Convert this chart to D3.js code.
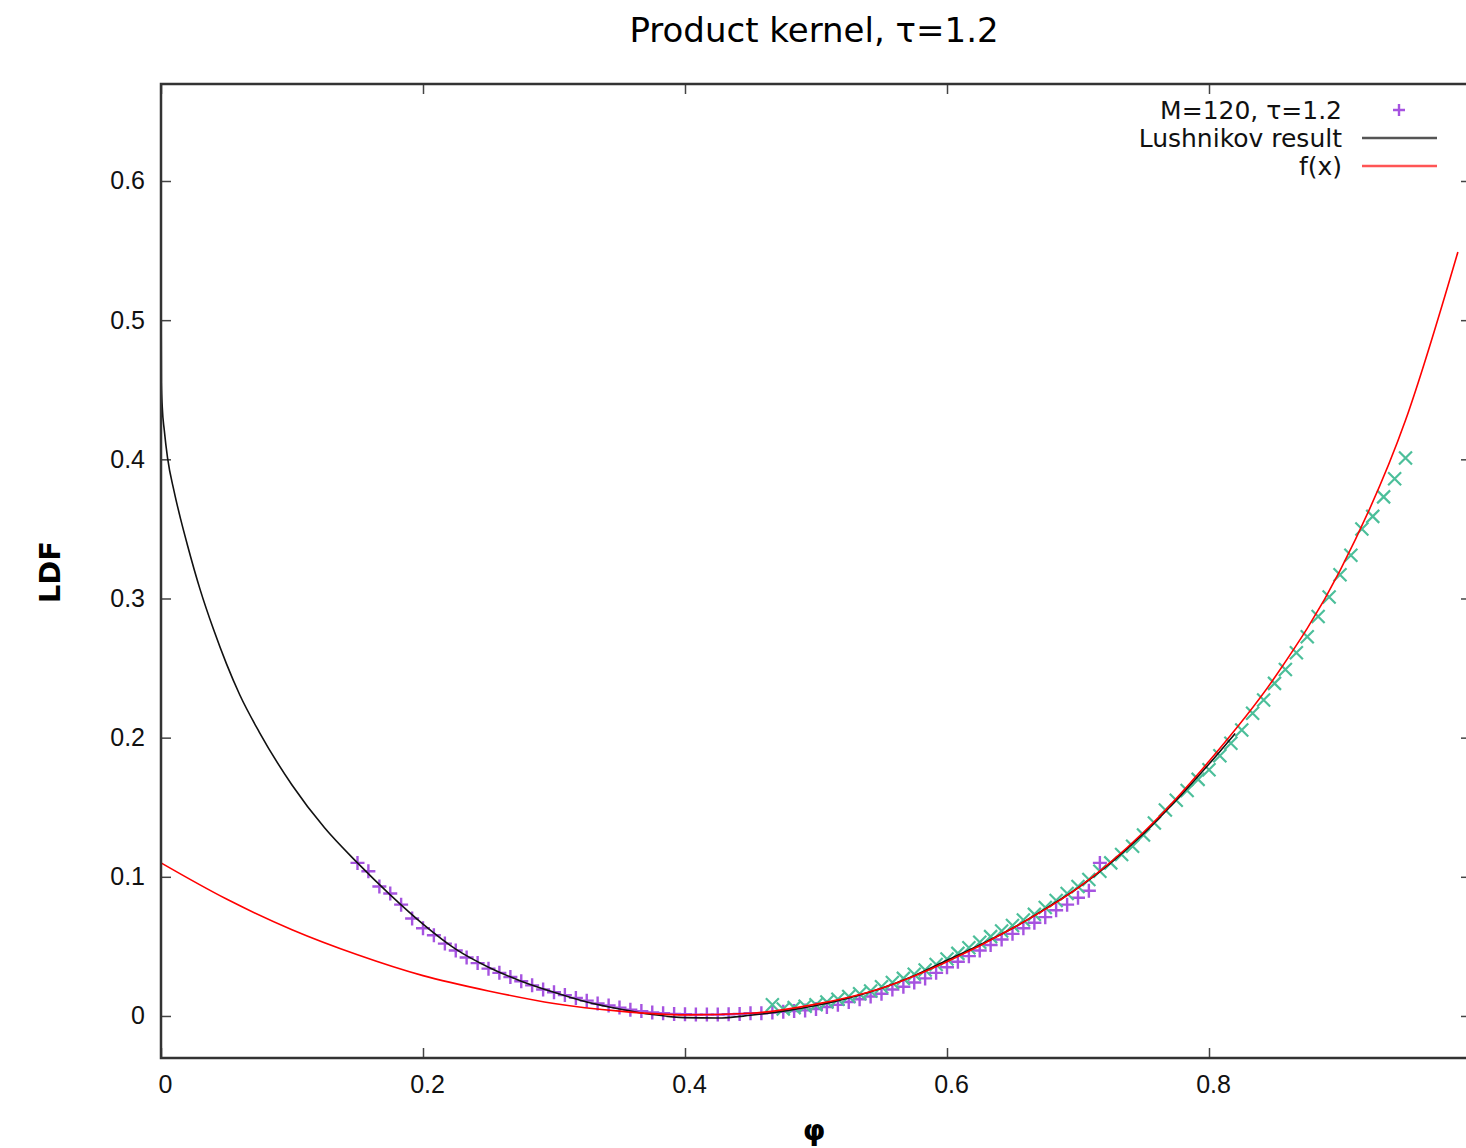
<!DOCTYPE html>
<html>
<head>
<meta charset="utf-8">
<script src="https://cdn.jsdelivr.net/npm/d3@7"></script>
<style>
  html, body { margin: 0; padding: 0; background: #fff; }
  svg { display: block; font-family: "DejaVu Sans", sans-serif; }
</style>
</head>
<body>
<svg id="chart" width="1466" height="1148"></svg>
<script>
// Simulation points, M=120 (purple "+")
const simPoints = [
  [0.1500,0.110],[0.1583,0.104],[0.1667,0.093],[0.1750,0.088],[0.1833,0.080],[0.1917,0.070],
  [0.2000,0.063],[0.2083,0.058],[0.2167,0.052],[0.2250,0.047],[0.2333,0.042],[0.2417,0.038],
  [0.2500,0.034],[0.2583,0.031],[0.2667,0.028],[0.2750,0.025],[0.2833,0.022],[0.2917,0.019],
  [0.3000,0.017],[0.3083,0.015],[0.3167,0.013],[0.3250,0.011],[0.3333,0.009],[0.3417,0.0075],
  [0.3500,0.006],[0.3583,0.0045],[0.3667,0.0035],[0.3750,0.0025],[0.3833,0.002],[0.3917,0.0015],
  [0.4000,0.0012],[0.4083,0.001],[0.4167,0.001],[0.4250,0.001],[0.4333,0.0012],[0.4417,0.0015],
  [0.4500,0.002],[0.4583,0.002],[0.4667,0.0025],[0.4750,0.003],[0.4833,0.0035],[0.4917,0.004],
  [0.5000,0.005],[0.5083,0.0065],[0.5167,0.008],[0.5250,0.010],[0.5333,0.012],[0.5417,0.014],
  [0.5500,0.016],[0.5583,0.019],[0.5667,0.021],[0.5750,0.024],[0.5833,0.027],[0.5917,0.031],
  [0.6000,0.035],[0.6083,0.039],[0.6167,0.043],[0.6250,0.047],[0.6333,0.051],[0.6417,0.055],
  [0.6500,0.059],[0.6583,0.063],[0.6667,0.067],[0.6750,0.071],[0.6833,0.076],[0.6917,0.080],
  [0.7000,0.085],[0.7083,0.090],[0.7167,0.110]
];

// Second simulation run (green "x", no legend entry)
const simPoints2 = [
  [0.4667,0.008],[0.4750,0.005],[0.4833,0.006],[0.4917,0.007],[0.5000,0.008],[0.5083,0.010],
  [0.5167,0.012],[0.5250,0.014],[0.5333,0.016],[0.5417,0.018],[0.5500,0.021],[0.5583,0.024],
  [0.5667,0.027],[0.5750,0.030],[0.5833,0.033],[0.5917,0.037],[0.6000,0.041],[0.6083,0.045],
  [0.6167,0.049],[0.6250,0.053],[0.6333,0.057],[0.6417,0.061],[0.6500,0.065],[0.6583,0.069],
  [0.6667,0.073],[0.6750,0.078],[0.6833,0.083],[0.6917,0.088],[0.7000,0.093],[0.7083,0.098],
  [0.7167,0.104],[0.7250,0.110],[0.7333,0.116],[0.7417,0.122],[0.7500,0.130],[0.7583,0.1386],
  [0.7667,0.148],[0.7750,0.155],[0.7833,0.162],[0.7917,0.170],[0.8000,0.177],[0.8083,0.187],
  [0.8167,0.196],[0.8250,0.2055],[0.8333,0.2175],[0.8417,0.227],[0.8500,0.239],[0.8583,0.249],
  [0.8667,0.261],[0.8750,0.2725],[0.8833,0.287],[0.8917,0.301],[0.9000,0.317],[0.9083,0.331],
  [0.9167,0.350],[0.9250,0.359],[0.9333,0.373],[0.9417,0.386],[0.9500,0.401]
];

// Lushnikov analytic result (black)
const lushnikov = [
  [0,0.53],[0.0003,0.455],[0.001,0.437],[0.0025,0.421],[0.005,0.401],[0.01,0.377],[0.015,0.357],
  [0.02,0.339],[0.03,0.306],[0.04,0.278],[0.05,0.253],[0.06,0.231],[0.075,0.204],[0.1,0.166],
  [0.125,0.135],[0.15,0.110],[0.175,0.087],[0.2,0.066],[0.225,0.048],[0.25,0.035],[0.275,0.025],
  [0.3,0.017],[0.325,0.010],[0.35,0.005],[0.375,0.001],[0.4,-0.0012],[0.425,-0.0015],
  [0.45,0.0005],[0.475,0.0035],[0.5,0.0075],[0.525,0.013],[0.55,0.020],[0.575,0.029],
  [0.6,0.040],[0.625,0.051],[0.65,0.063],[0.675,0.077],[0.7,0.092],[0.725,0.110],[0.75,0.131],
  [0.775,0.155],[0.8,0.181],[0.82,0.203]
];

// f(x) (red)
const fx = [
  [0,0.110],[0.05,0.084],[0.1,0.062],[0.15,0.044],[0.2,0.029],[0.25,0.018],[0.3,0.009],
  [0.35,0.0035],[0.4,0.0008],[0.45,0.002],[0.5,0.0085],[0.55,0.020],[0.6,0.039],[0.65,0.063],
  [0.7,0.092],[0.75,0.132],[0.8,0.183],[0.85,0.243],[0.9,0.320],[0.95,0.428],[0.99,0.549]
];

const xTicks = [0, 0.2, 0.4, 0.6, 0.8];
const yTicks = [0, 0.1, 0.2, 0.3, 0.4, 0.5, 0.6];
const legendLabels = ["M=120, \u03c4=1.2", "Lushnikov result", "f(x)"];

const svg = d3.select("#chart");
const frame = { left: 161, right: 1471, top: 84, bottom: 1058 };

const x = d3.scaleLinear().domain([0, 1]).range([frame.left, frame.right]);
const y = d3.scaleLinear().domain([-0.0302, 0.6697]).range([frame.bottom, frame.top]);

const purple = "#a653e0";
const green = "#4cbf9a";
const labelSize = "25px";

// Title
svg.append("text")
  .attr("x", 814).attr("y", 42)
  .attr("text-anchor", "middle")
  .style("font-size", "34px")
  .attr("fill", "#000")
  .text("Product kernel, \u03c4=1.2");

// Axis labels
svg.append("text")
  .attr("transform", "translate(60,572) rotate(-90)")
  .attr("text-anchor", "middle")
  .style("font-size", "29px")
  .style("font-weight", "bold")
  .text("LDF");
svg.append("text")
  .attr("x", 814).attr("y", 1140)
  .attr("text-anchor", "middle")
  .style("font-size", "29px")
  .style("font-weight", "bold")
  .text("\u03c6");

// Ticks on all four sides, pointing inward
const tickLen = 10;
const tickColor = "#444";
const fmt = d => d === 0 ? "0" : d3.format(".1f")(d);

const axisBottom = d3.axisBottom(x).tickValues(xTicks).tickSizeInner(-tickLen).tickSizeOuter(0)
  .tickPadding(17).tickFormat(fmt);
const gB = svg.append("g").attr("transform", `translate(0,${frame.bottom})`).call(axisBottom);
gB.select(".domain").remove();
gB.selectAll("line").attr("stroke", tickColor).attr("stroke-width", 1.5);
gB.selectAll("text").style("font-size", labelSize).attr("fill", "#111").attr("dx", 4);

const axisTop = d3.axisTop(x).tickValues(xTicks).tickSizeInner(-tickLen).tickSizeOuter(0).tickFormat("");
const gT = svg.append("g").attr("transform", `translate(0,${frame.top})`).call(axisTop);
gT.select(".domain").remove();
gT.selectAll("line").attr("stroke", tickColor).attr("stroke-width", 1.5);

const axisLeft = d3.axisLeft(y).tickValues(yTicks).tickSizeInner(-tickLen).tickSizeOuter(0)
  .tickPadding(16).tickFormat(fmt);
const gL = svg.append("g").attr("transform", `translate(${frame.left},0)`).call(axisLeft);
gL.select(".domain").remove();
gL.selectAll("line").attr("stroke", tickColor).attr("stroke-width", 1.5);
gL.selectAll("text").style("font-size", labelSize).attr("fill", "#111");

const axisRight = d3.axisRight(y).tickValues(yTicks).tickSizeInner(-tickLen).tickSizeOuter(0).tickFormat("");
const gR = svg.append("g").attr("transform", `translate(${frame.right},0)`).call(axisRight);
gR.select(".domain").remove();
gR.selectAll("line").attr("stroke", tickColor).attr("stroke-width", 1.5);

// Data markers
const plusPath = s => `M${-s},0H${s}M0,${-s}V${s}`;
const crossPath = s => `M${-s},${-s}L${s},${s}M${-s},${s}L${s},${-s}`;

svg.append("g").selectAll("path")
  .data(simPoints).join("path")
  .attr("transform", d => `translate(${x(d[0])},${y(d[1])})`)
  .attr("d", plusPath(7))
  .attr("stroke", purple).attr("stroke-width", 2.4).attr("fill", "none");

svg.append("g").selectAll("path")
  .data(simPoints2).join("path")
  .attr("transform", d => `translate(${x(d[0])},${y(d[1])})`)
  .attr("d", crossPath(6.5))
  .attr("stroke", green).attr("stroke-width", 2.2).attr("fill", "none");

// Curves
const line = d3.line().x(d => x(d[0])).y(d => y(d[1])).curve(d3.curveMonotoneX);
svg.append("path").datum(lushnikov)
  .attr("d", line).attr("fill", "none").attr("stroke", "#111").attr("stroke-width", 1.6);
svg.append("path").datum(fx)
  .attr("d", line).attr("fill", "none").attr("stroke", "#ff0000").attr("stroke-width", 1.6);

// Frame
svg.append("rect")
  .attr("x", frame.left).attr("y", frame.top)
  .attr("width", frame.right - frame.left).attr("height", frame.bottom - frame.top)
  .attr("fill", "none").attr("stroke", "#333").attr("stroke-width", 2.5);

// Legend
const legend = svg.append("g");
const rowY = [110, 138, 166];
legendLabels.forEach((t, i) => {
  legend.append("text")
    .attr("x", 1342).attr("y", rowY[i])
    .attr("dy", "0.35em")
    .attr("text-anchor", "end")
    .style("font-size", labelSize)
    .attr("fill", "#111")
    .text(t);
});
legend.append("path")
  .attr("transform", `translate(1399,${rowY[0]})`)
  .attr("d", plusPath(6))
  .attr("stroke", purple).attr("stroke-width", 2.4).attr("fill", "none");
legend.append("line")
  .attr("x1", 1362).attr("x2", 1437).attr("y1", rowY[1]).attr("y2", rowY[1])
  .attr("stroke", "#555").attr("stroke-width", 2.5);
legend.append("line")
  .attr("x1", 1362).attr("x2", 1437).attr("y1", rowY[2]).attr("y2", rowY[2])
  .attr("stroke", "#ff5555").attr("stroke-width", 2.5);
</script>
</body>
</html>
